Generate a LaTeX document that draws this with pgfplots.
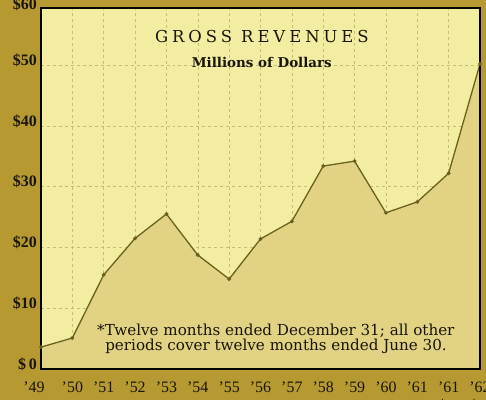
\documentclass[border=0pt]{standalone}
\usepackage{pgfplots}
\pgfplotsset{compat=1.18}
\usepackage{fontspec}
\setmainfont{DejaVu Serif}
\newfontfamily\libserif{Liberation Serif}
\newfontfamily\titlefont[LetterSpace=24]{DejaVu Serif}
\usetikzlibrary{backgrounds}
\definecolor{outerbg}{RGB}{183,153,50}
\definecolor{plotbg}{RGB}{242,237,160}
\definecolor{fillc}{RGB}{226,211,132}
\definecolor{linec}{RGB}{105,98,30}
\definecolor{gridc}{RGB}{200,190,115}
\definecolor{textc}{RGB}{25,22,10}

\pgfplotstableread{
x y
0 3.6
1 5.1
2 15.5
3 21.5
4 25.5
5 18.75
6 14.8
7 21.4
8 24.3
9 33.4
10 34.2
11 25.7
12 27.5
13 32.2
14 50.2
}\revenues

\begin{document}
\begin{tikzpicture}
\begin{axis}[
  scale only axis, width=439bp, height=361bp,
  xmin=0, xmax=14, ymin=0, ymax=59.4,
  clip=false,
  axis background/.style={fill=plotbg},
  axis line style={draw=none},
  xtick={0,...,14},
  xticklabels={\hspace*{-14bp}’49,’50,’51,’52,’53,’54,’55,’56,’57,’58,’59,’60,’61,’61,’62},
  ytick={0,10,20,30,40,50},
  yticklabels={\$\,0,\$10,\$20,\$30,\$40,\$50},
  grid=major,
  major grid style={gridc, dashed, line width=0.5bp},
  major tick length=0pt,
  xticklabel style={font=\libserif\fontsize{16}{16}\selectfont, text=textc, anchor=center, yshift=-18bp},
  yticklabel style={font=\libserif\bfseries\fontsize{16}{16}\selectfont, text=textc, anchor=east, inner sep=0pt, xshift=-4bp, yshift=5bp},
]
\addplot[draw=linec, line width=1.3bp, fill=fillc, mark=*, mark size=1.2bp, mark options={fill=linec, draw=linec}] table[x=x,y=y] {\revenues} \closedcycle;
\draw[black, line width=2.6bp] (rel axis cs:0,0) rectangle (rel axis cs:1,1);
\node[font=\libserif\bfseries\fontsize{16}{16}\selectfont, text=textc, anchor=east, inner sep=0pt] at ([xshift=-4bp]axis cs:0,60) {\$60};
\node[font=\titlefont\fontsize{16.5}{16.5}\selectfont, text=textc] at (rel axis cs:0.503,0.922) {GROSS REVENUES};
\node[font=\bfseries\fontsize{13.5}{13.5}\selectfont, text=textc] at (rel axis cs:0.503,0.850) {Millions of Dollars};
\node[font=\fontsize{15.2}{15.2}\selectfont, text=textc, anchor=base west, inner sep=0pt] at (rel axis cs:0.1276,0.094) {*Twelve months ended December 31; all other};
\node[font=\fontsize{15.2}{15.2}\selectfont, text=textc, anchor=base west, inner sep=0pt] at (rel axis cs:0.146,0.050) {periods cover twelve months ended June 30.};
\node[font=\libserif\fontsize{14}{14}\selectfont, text=textc, anchor=north] at ([xshift=-6bp,yshift=-27bp]axis cs:13,0) {*};
\node[font=\libserif\fontsize{14}{14}\selectfont, text=textc, anchor=north] at ([xshift=-6bp,yshift=-27bp]axis cs:14,0) {*};
\end{axis}
\begin{scope}[on background layer]
\fill[outerbg] ([xshift=-41bp,yshift=-31bp]current axis.south west) rectangle ([xshift=6bp,yshift=8bp]current axis.north east);
\end{scope}
\pgfresetboundingbox
\path[use as bounding box] ([xshift=-41bp,yshift=-31bp]current axis.south west) rectangle ([xshift=6bp,yshift=8bp]current axis.north east);
\end{tikzpicture}
\end{document}
